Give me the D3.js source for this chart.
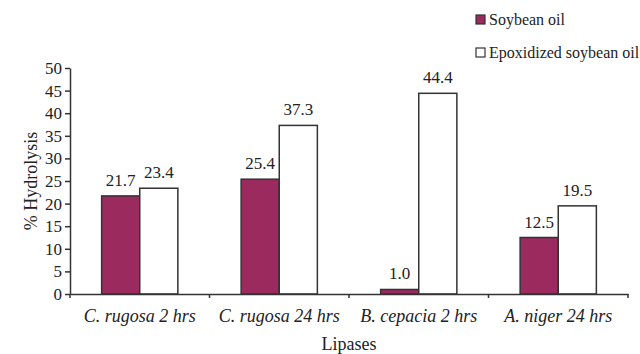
<!DOCTYPE html>
<html><head><meta charset="utf-8">
<script src="https://cdn.jsdelivr.net/npm/d3@7"></script>
<style>body{margin:0;background:#fff}svg{display:block}svg text{font-family:"Liberation Serif","DejaVu Serif",serif}</style>
</head><body><svg id="c" width="640" height="354"></svg>
<script>
const categories = ["C. rugosa 2 hrs","C. rugosa 24 hrs","B. cepacia 2 hrs","A. niger 24 hrs"];
const seriesNames = ["Soybean oil","Epoxidized soybean oil"];
const soybean = [21.7, 25.4, 1.0, 12.5];
const epoxidized = [23.4, 37.3, 44.4, 19.5];
const yTicks = [0,5,10,15,20,25,30,35,40,45,50];
const colors = ["#9b2a5f","#ffffff"];

const svg = d3.select("#c");
const x0 = 70, x1 = 628, y0 = 294, y1 = 68;
const font = "Liberation Serif";
const ink = "#333";

const x = d3.scaleBand().domain(categories).range([x0, x1]).paddingInner(0).paddingOuter(0);
const xs = d3.scaleBand().domain(seriesNames).range([0, x.bandwidth()]).paddingInner(0).paddingOuter(0.83);
const y = d3.scaleLinear().domain([0,50]).range([y0, y1]);

const data = categories.map((c,i)=>({c, vals:[soybean[i], epoxidized[i]]}));

const g = svg.append("g");
data.forEach(d=>{
  d.vals.forEach((v,j)=>{
    const bx = x(d.c) + xs(seriesNames[j]);
    g.append("rect").attr("x", bx).attr("y", y(v)).attr("width", xs.bandwidth()).attr("height", y(0)-y(v))
      .attr("fill", colors[j]).attr("stroke", ink).attr("stroke-width", 1.5);
    g.append("text").attr("x", bx + xs.bandwidth()/2).attr("y", y(v) - 10)
      .attr("text-anchor","middle").attr("font-family", font).attr("font-size", 17).attr("fill","#222")
      .text(v.toFixed(1));
  });
});

// Y axis
const ya = svg.append("g").attr("transform",`translate(${x0},0)`)
  .call(d3.axisLeft(y).tickValues(yTicks).tickSize(5).tickSizeOuter(0).tickPadding(3));
ya.attr("font-family", font);
ya.select(".domain").attr("stroke", ink).attr("stroke-width", 1.5);
ya.selectAll(".tick line").attr("stroke", ink).attr("stroke-width", 1.5);
ya.selectAll(".tick text").attr("font-family", font).attr("font-size", 17).attr("fill","#222");

// X axis
const xa = svg.append("g").attr("transform",`translate(0,${y0})`)
  .call(d3.axisBottom(x).tickSize(0).tickPadding(15));
xa.attr("font-family", font);
xa.select(".domain").attr("stroke", ink).attr("stroke-width", 1.5);
xa.selectAll(".tick text").attr("font-family", font).attr("font-size", 18).attr("font-style","italic").attr("fill","#222");
const bounds = categories.map(c=>x(c)).concat([x1]);
svg.append("g").selectAll("line").data(bounds).join("line")
  .attr("x1", d=>d).attr("x2", d=>d).attr("y1", y0).attr("y2", y0+4)
  .attr("stroke", ink).attr("stroke-width", 1.5);

// Axis titles
svg.append("text").attr("x", (x0+x1)/2).attr("y", 350).attr("text-anchor","middle")
  .attr("font-family", font).attr("font-size", 18).attr("fill","#222").text("Lipases");
svg.append("text").attr("transform",`translate(37,${(y0+y1)/2}) rotate(-90)`).attr("text-anchor","middle")
  .attr("font-family", font).attr("font-size", 18).attr("fill","#222").text("% Hydrolysis");

// Legend
const lg = svg.append("g");
const ly = [20, 53];
seriesNames.forEach((s,i)=>{
  lg.append("rect").attr("x", 476).attr("y", ly[i]-5).attr("width", 9).attr("height", 9)
    .attr("fill", colors[i]).attr("stroke", ink).attr("stroke-width", 1.2);
  lg.append("text").attr("x", 489).attr("y", ly[i]+5).attr("font-family", font).attr("font-size", 16)
    .attr("fill","#222").text(s);
});
</script></body></html>
